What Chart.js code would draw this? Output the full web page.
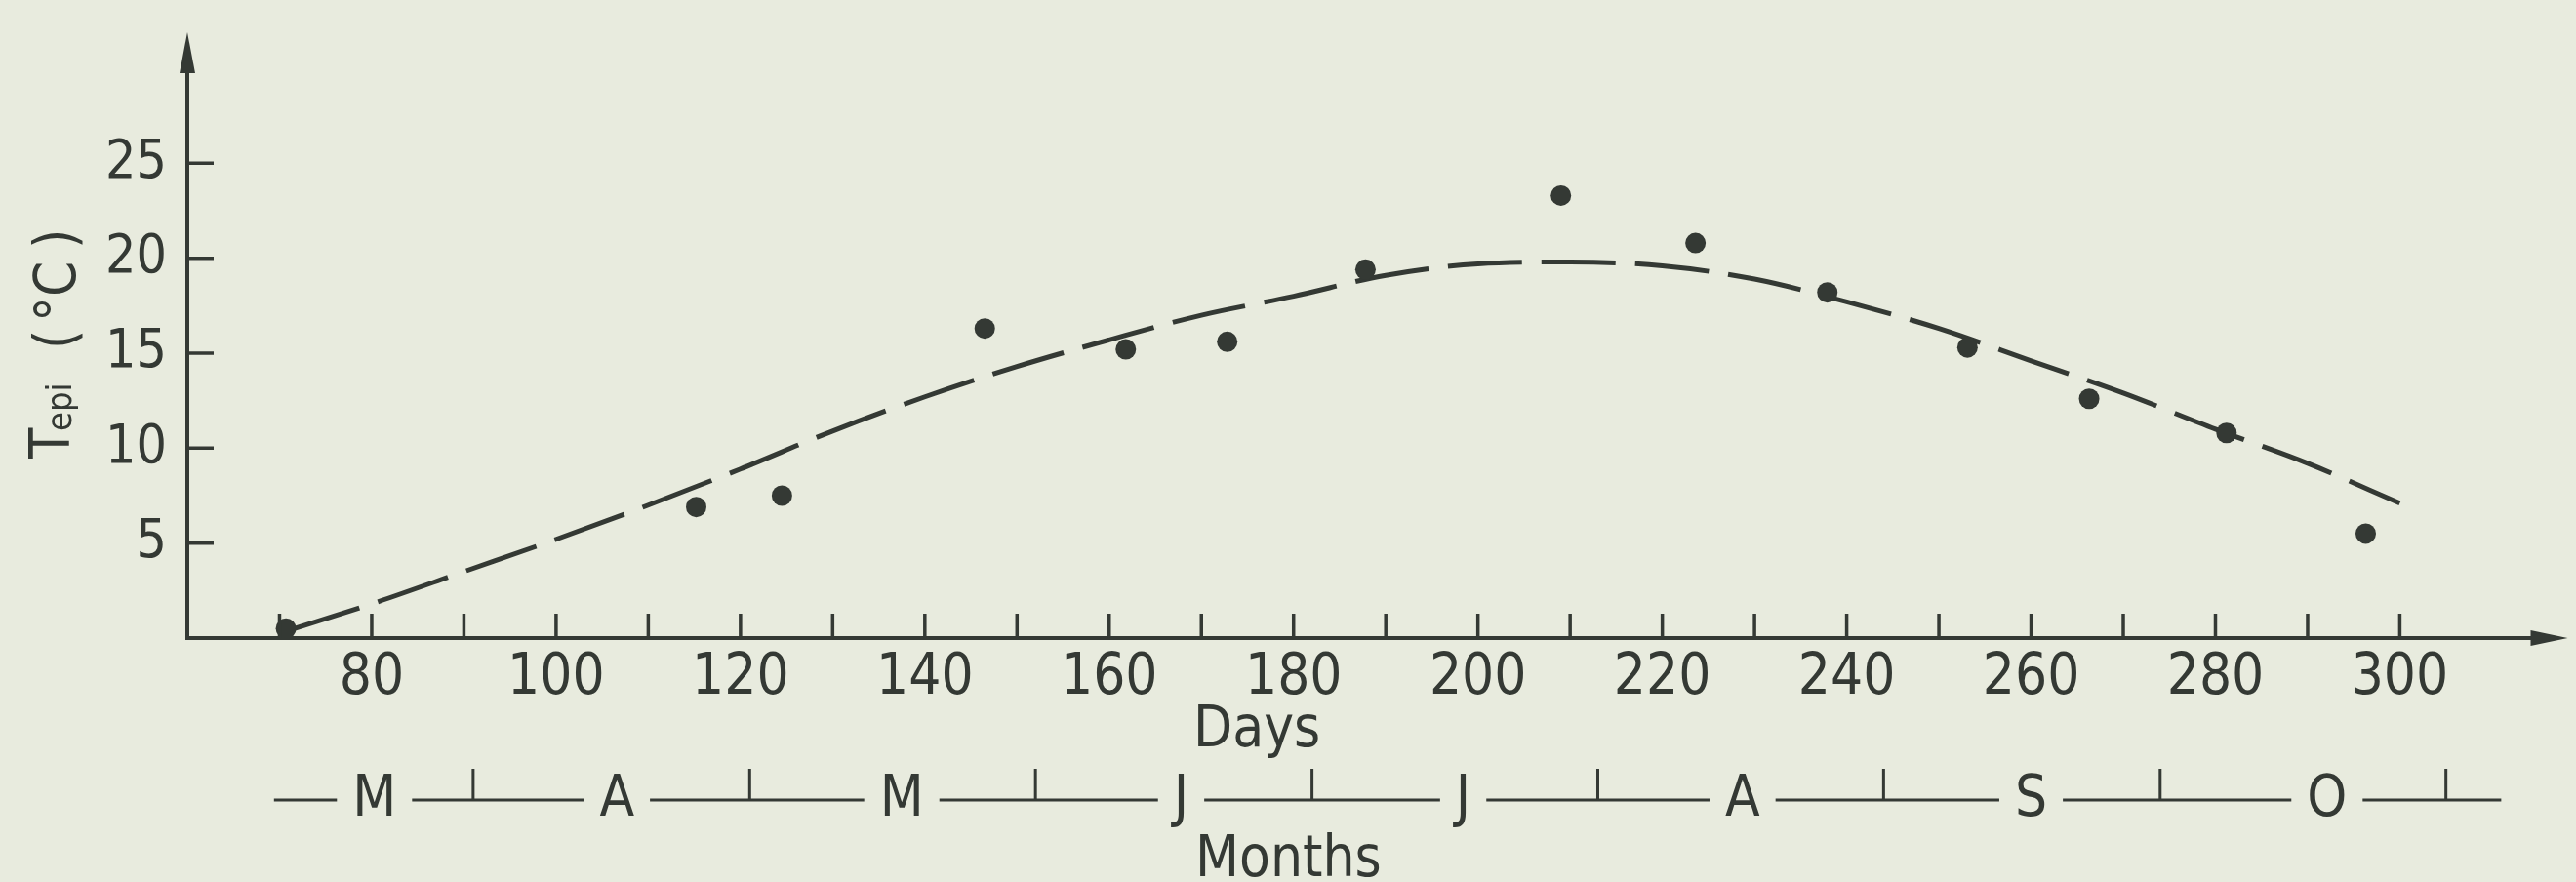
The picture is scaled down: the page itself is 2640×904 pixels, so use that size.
<!DOCTYPE html>
<html><head><meta charset="utf-8">
<script src="https://cdn.jsdelivr.net/npm/chart.js@4.4.1/dist/chart.umd.min.js"></script>
<style>html,body{margin:0;padding:0;background:#e8ebde;}#wrap{width:2640px;height:904px;position:relative;}</style>
</head><body><div id="wrap"><canvas id="c" width="2640" height="904"></canvas></div>
<script>
// ---- data ----
const pointDays  = [70.7, 115.2, 124.5, 146.5, 161.8, 172.8, 187.8, 209.0, 223.6, 237.9, 253.1, 266.3, 281.2, 296.3];
const pointTemps = [0.5, 6.9, 7.5, 16.3, 15.2, 15.6, 19.4, 23.3, 20.8, 18.2, 15.3, 12.6, 10.8, 5.5];
const curveDays  = [71, 80, 90, 100, 110, 120, 130, 140, 150, 160, 170, 180, 190, 200, 210, 220, 230, 240, 250, 260, 270, 280, 290, 300];
const curveTemps = [0.4, 1.8, 3.5, 5.2, 7.0, 8.9, 10.9, 12.7, 14.3, 15.7, 17.0, 18.0, 19.1, 19.7, 19.8, 19.6, 18.9, 17.7, 16.3, 14.6, 12.9, 11.0, 9.2, 7.1];
const xTickValues = [70, 80, 90, 100, 110, 120, 130, 140, 150, 160, 170, 180, 190, 200, 210, 220, 230, 240, 250, 260, 270, 280, 290, 300];
const xTickLabels = [80, 100, 120, 140, 160, 180, 200, 220, 240, 260, 280, 300];
const yTickValues = [5, 10, 15, 20, 25];
const monthLabels    = ['M', 'A', 'M', 'J', 'J', 'A', 'S', 'O'];
const monthLabelDays = [80.3, 106.6, 137.5, 167.8, 198.4, 228.7, 260.0, 292.1];
const monthEndDays   = [91, 121, 152, 182, 213, 244, 274, 305];
const monthRowStartDay = 69.4, monthRowEndDay = 311;
const xTitle = 'Days', monthTitle = 'Months';

const INK = '#343934';
const FONT = '"DejaVu Sans Condensed", "DejaVu Sans", sans-serif';

const axesPlugin = {
  id: 'paperAxes',
  afterDatasetsDraw(chart) {
    const ctx = chart.ctx, xs = chart.scales.x, ys = chart.scales.y;
    const ca = chart.chartArea;
    const x0 = xs.getPixelForValue(xs.min), y0 = ys.getPixelForValue(0);
    ctx.save();
    ctx.strokeStyle = INK; ctx.fillStyle = INK; ctx.lineCap = 'butt';
    // axes lines
    ctx.lineWidth = 4;
    ctx.beginPath();
    ctx.moveTo(x0, y0 + 2); ctx.lineTo(x0, ca.top + 30);
    ctx.moveTo(x0 - 2, y0); ctx.lineTo(ca.right - 30, y0);
    ctx.stroke();
    // arrowheads
    ctx.beginPath();
    ctx.moveTo(x0, ca.top); ctx.lineTo(x0 - 8, ca.top + 42); ctx.lineTo(x0 + 8, ca.top + 42); ctx.closePath();
    ctx.fill();
    ctx.beginPath();
    ctx.moveTo(ca.right + 2, y0); ctx.lineTo(ca.right - 36, y0 - 8); ctx.lineTo(ca.right - 36, y0 + 8); ctx.closePath();
    ctx.fill();
    // inward ticks
    ctx.lineWidth = 3.5;
    ctx.beginPath();
    xTickValues.forEach(v => { const p = xs.getPixelForValue(v); ctx.moveTo(p, y0); ctx.lineTo(p, y0 - 25); });
    yTickValues.forEach(v => { const p = ys.getPixelForValue(v); ctx.moveTo(x0, p); ctx.lineTo(x0 + 27, p); });
    ctx.stroke();

    // month row
    const rowY = 820;
    ctx.font = '58px ' + FONT;
    ctx.textAlign = 'center'; ctx.textBaseline = 'alphabetic';
    ctx.lineWidth = 3;
    let cur = xs.getPixelForValue(monthRowStartDay);
    ctx.beginPath();
    monthLabels.forEach((m, i) => {
      const c = xs.getPixelForValue(monthLabelDays[i]);
      const g = ctx.measureText(m).width / 2 + 16;
      ctx.moveTo(cur, rowY); ctx.lineTo(c - g, rowY);
      cur = c + g;
    });
    ctx.moveTo(cur, rowY); ctx.lineTo(xs.getPixelForValue(monthRowEndDay), rowY);
    monthEndDays.forEach(d => { const p = xs.getPixelForValue(d); ctx.moveTo(p, rowY); ctx.lineTo(p, rowY - 32); });
    ctx.stroke();
    monthLabels.forEach((m, i) => ctx.fillText(m, xs.getPixelForValue(monthLabelDays[i]), 836));

    // titles
    ctx.textAlign = 'left';
    ctx.fillText(xTitle, 1223, 765);
    ctx.fillText(monthTitle, 1225, 898);

    // y title  T_epi ( °C )
    ctx.save();
    ctx.translate(0, 470);
    ctx.rotate(-Math.PI / 2);
    ctx.font = '57px ' + FONT;
    ctx.fillText('T', 0, 71);
    ctx.font = '36px ' + FONT;
    ctx.fillText('epi', 28, 73);
    ctx.font = '58px ' + FONT;
    ctx.fillText('(', 112, 77);
    ctx.fillText('°', 140, 77);
    ctx.fillText('C', 166, 77);
    ctx.fillText(')', 215, 77);
    ctx.restore();
    ctx.restore();
  }
};

const noPad = s => { s.paddingTop = 0; s.paddingBottom = 0; s.paddingLeft = 0; s.paddingRight = 0; };

new Chart(document.getElementById('c'), {
  type: 'scatter',
  data: {
    datasets: [
      {
        label: 'measured',
        data: pointDays.map((d, i) => ({ x: d, y: pointTemps[i] })),
        pointRadius: 10.5, pointHoverRadius: 10.5,
        backgroundColor: INK, borderColor: INK, borderWidth: 0,
        clip: false
      },
      {
        label: 'fit',
        data: curveDays.map((d, i) => ({ x: d, y: curveTemps[i] })),
        showLine: true, pointRadius: 0, borderColor: INK, borderWidth: 5,
        borderDash: [76, 20], cubicInterpolationMode: 'monotone', fill: false,
        clip: false
      }
    ]
  },
  options: {
    responsive: false, animation: false, devicePixelRatio: 1,
    layout: { padding: { left: 0, top: 33, right: 4, bottom: 0 } },
    plugins: { legend: { display: false }, tooltip: { enabled: false } },
    scales: {
      x: {
        type: 'linear', min: 60, max: 318,
        grid: { display: false }, border: { display: false },
        afterBuildTicks: s => { s.ticks = xTickValues.map(v => ({ value: v })); },
        afterFit: s => { s.height = 250; noPad(s); },
        ticks: {
          autoSkip: false, maxRotation: 0, padding: -1, color: INK,
          font: { size: 58, family: FONT },
          callback: v => xTickLabels.includes(v) ? String(v) : ''
        }
      },
      y: {
        type: 'linear', min: 0, max: 31.9,
        grid: { display: false }, border: { display: false },
        afterBuildTicks: s => { s.ticks = yTickValues.map(v => ({ value: v })); },
        afterFit: s => { s.width = 192; noPad(s); },
        ticks: { padding: 13, color: INK, font: { size: 55, family: FONT } }
      }
    }
  },
  plugins: [axesPlugin]
});
</script></body></html>
